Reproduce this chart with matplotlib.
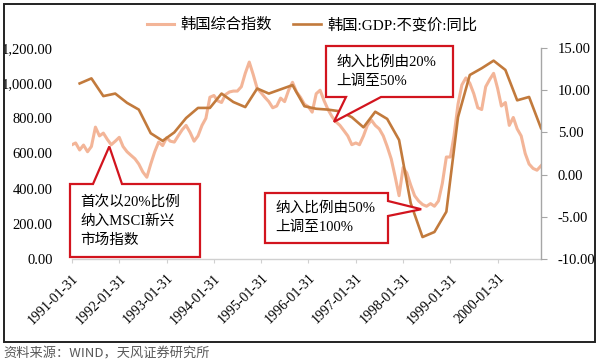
import matplotlib
matplotlib.use("Agg")
import matplotlib.pyplot as plt
import matplotlib.dates as mdates
from matplotlib.patches import Polygon, Rectangle
from matplotlib.ticker import FuncFormatter, FixedLocator
import pandas as pd
import numpy as np

# ---------------- data ----------------
index_start = "1991-01-31"
kospi = [650, 660, 620, 648, 610, 640, 750, 700, 716, 680, 650, 670,
         692, 640, 610, 590, 570, 540, 495, 465, 540, 610, 665, 645,
         690, 670, 665, 700, 735, 760, 720, 670, 700, 760, 800, 920,
         930, 900, 890, 935, 950, 955, 955, 980, 1056, 1120, 1050, 970,
         945, 920, 895, 860, 870, 915, 895, 960, 1005, 950, 920, 880,
         866, 835, 940, 960, 900, 850, 810, 780, 760, 730, 700, 650,
         660, 650, 700, 760, 790, 760, 740, 700, 640, 570, 470, 360,
         520, 490, 420, 360, 330, 310, 300, 315, 300, 330, 430, 580,
         580, 700, 880, 990, 1030, 1000, 940, 860, 850, 980, 1020, 1056,
         970, 870, 890, 760, 805, 740, 700, 600, 540, 515, 505, 530]

gdp_start = "1991-03-31"
gdp = [10.8, 11.4, 9.3, 9.6, 8.5, 7.7, 4.9, 4.0,
       5.0, 6.7, 7.9, 7.9, 9.6, 8.6, 8.0, 10.2,
       9.6, 10.1, 10.6, 8.1, 7.8, 7.7, 7.5, 6.8,
       5.6, 7.45, 6.6, 4.1, -3.4, -7.4, -6.8, -4.4,
       6.8, 11.8, 12.6, 13.5, 12.4, 8.8, 9.2, 5.5]

label_index = "韩国综合指数"
label_gdp = "韩国:GDP:不变价:同比"
left_ticks = [0, 200, 400, 600, 800, 1000, 1200]
right_ticks = [-10, -5, 0, 5, 10, 15]
tick_dates = ["1991-01-31", "1992-01-31", "1993-01-31", "1994-01-31", "1995-01-31",
              "1996-01-31", "1997-01-31", "1998-01-31", "1999-01-31", "2000-01-31"]

callout_texts = ["首次以20%比例\n纳入MSCI新兴\n市场指数",
                 "纳入比例由20%\n上调至50%",
                 "纳入比例由50%\n上调至100%"]
callout_tips = [("1991-11-15", 640), ("1996-08-15", 780), ("1998-06-20", 283)]
source_text = "资料来源：WIND，天风证券研究所"

# ---------------- style ----------------
W, H = 600, 364
serif = ["Liberation Serif", "Noto Sans CJK SC"]
plt.rcParams["font.family"] = serif
c_index = "#F3B598"
c_gdp = "#C27A3C"
c_red = "#D2141E"
c_axis = "#A6A6A6"

fig = plt.figure(figsize=(W / 100, H / 100), dpi=100)

def fx(px):
    return px / W

def fy(py):
    return 1 - py / H

ax = fig.add_axes([fx(72), fy(259), fx(541 - 72), (259 - 48) / H])
ax2 = ax.twinx()

idx_dates = pd.date_range(index_start, periods=len(kospi), freq="ME")
gdp_dates = pd.date_range(gdp_start, periods=len(gdp), freq="QE")

l1, = ax.plot(idx_dates, kospi, color=c_index, lw=2.2, solid_joinstyle="round")
l2, = ax2.plot(gdp_dates, gdp, color=c_gdp, lw=1.9, solid_joinstyle="round")

ax.set_xlim(pd.Timestamp("1991-01-31"), pd.Timestamp("2000-12-31"))
ax.set_ylim(0, 1200)
ax2.set_ylim(-10, 15)

ax.yaxis.set_major_locator(FixedLocator(left_ticks))
ax.yaxis.set_major_formatter(FuncFormatter(lambda v, p: f"{v:,.2f}"))
ax2.yaxis.set_major_locator(FixedLocator(right_ticks))
ax2.yaxis.set_major_formatter(FuncFormatter(lambda v, p: f"{v:.2f}"))

ax.set_xticks([pd.Timestamp(d) for d in tick_dates])
ax.set_xticklabels(tick_dates, rotation=45, ha="right", rotation_mode="anchor")

for s in ["top", "left", "right"]:
    ax.spines[s].set_visible(False)
for s in ["top", "left", "bottom"]:
    ax2.spines[s].set_visible(False)
ax.spines["bottom"].set_color("#D0D0D0")
ax.spines["bottom"].set_linewidth(1.0)
ax2.spines["right"].set_color(c_axis)
ax2.spines["right"].set_linewidth(1.0)

ax.tick_params(axis="y", length=0, pad=14, labelsize=10.5, colors="#000000")
ax.tick_params(axis="x", length=3, direction="out", color="#D0D0D0", pad=6,
               labelsize=10, labelcolor="#000000")
ax2.tick_params(axis="y", length=4, direction="out", color=c_axis, pad=8,
                labelsize=10.5, labelcolor="#000000")

# legend
fig.legend([l1, l2], [label_index, label_gdp], loc="center",
           bbox_to_anchor=(fx(312), fy(25)), ncol=2, frameon=False,
           handlelength=1.8, columnspacing=1.4, handletextpad=0.4,
           prop={"family": serif, "size": 11})

# callouts
fig.canvas.draw()
to_fig = fig.transFigure.inverted()

def tip_px(date, value):
    disp = ax.transData.transform((mdates.date2num(pd.Timestamp(date)), value))
    f = to_fig.transform(disp)
    return f[0] * W, (1 - f[1]) * H

boxes = [(70, 184, 200, 257), (326, 46, 453, 97), (265, 193, 388, 243)]
text_pos = [(80, 221), (336, 72), (275, 218)]

def add_callout(i):
    x0, y0, x1, y1 = boxes[i]
    tx, ty = tip_px(*callout_tips[i])
    if i == 0:
        pts = [(x0, y0), (93, y0), (tx, ty), (122, y0), (x1, y0), (x1, y1), (x0, y1)]
    elif i == 1:
        pts = [(x0, y0), (x1, y0), (x1, y1), (381, y1), (tx, ty), (346, y1), (x0, y1)]
    else:
        pts = [(x0, y0), (x1, y0), (x1, 201), (tx, ty), (x1, 216), (x1, y1), (x0, y1)]
    poly = Polygon([(fx(a), fy(b)) for a, b in pts], closed=True,
                   transform=fig.transFigure, facecolor="white",
                   edgecolor=c_red, lw=1.6, zorder=10, joinstyle="miter")
    fig.add_artist(poly)
    fig.text(fx(text_pos[i][0]), fy(text_pos[i][1]), callout_texts[i],
             ha="left", va="center", fontsize=10.5, linespacing=1.55,
             family=serif, color="#000000", zorder=11)

for i in range(3):
    add_callout(i)

# outer frame
fig.add_artist(Rectangle((fx(4), fy(342)), fx(591), (342 - 4) / H,
                         transform=fig.transFigure, fill=False,
                         edgecolor="#222222", lw=1.4, zorder=20))

fig.text(fx(3), fy(354), source_text, ha="left", va="center", fontsize=9.5,
         color="#595959", family=["Noto Sans CJK SC", "DejaVu Sans"])

fig.savefig("out.png", dpi=100)
